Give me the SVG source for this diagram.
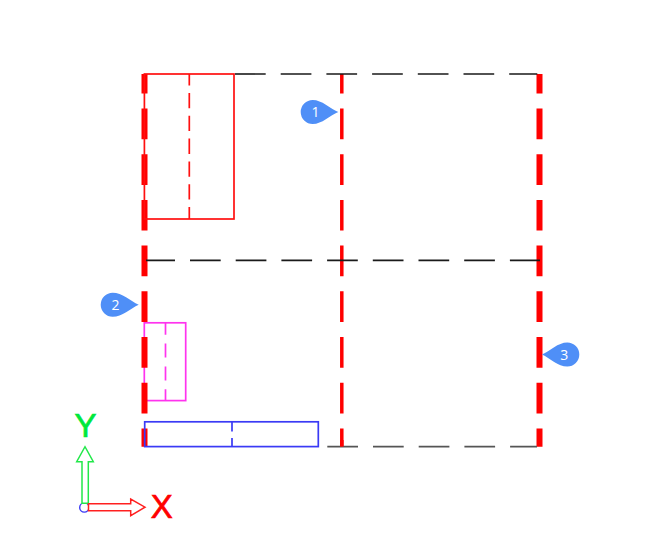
<svg xmlns="http://www.w3.org/2000/svg" width="650" height="550" viewBox="0 0 650 550">
<style>
.blk{stroke:#1a1a1a;stroke-width:1.6;stroke-dasharray:30.7 15;fill:none}
.thick{stroke:#ff0000;stroke-width:6;stroke-dasharray:30.7 15;stroke-dashoffset:11.2;fill:none}
.mid{stroke:#ff0000;stroke-width:3.5;stroke-dasharray:30.7 15;stroke-dashoffset:11.2;fill:none}
.box{fill:none;stroke-width:1.7}
.cen{fill:none;stroke-width:1.7}
.tag{fill:#4f8ff7}
.num{fill:#fff;font-family:"Open Sans","Liberation Sans",sans-serif;font-size:14px;text-anchor:middle}
.ax{font-family:"Liberation Sans",Arial,sans-serif;font-size:33px;text-anchor:middle;stroke-width:.7}
</style>
<rect width="650" height="550" fill="#fff"/>
<g id="magenta-part">
<rect class="box" x="144.3" y="322.8" width="41.4" height="77.8" stroke="#ff33ee"/>
<line class="cen" x1="165.5" y1="322.8" x2="165.5" y2="400.6" stroke="#ff33ee" stroke-dasharray="14 8.8" stroke-dashoffset="2"/>
</g>
<g id="grid-lines">
<line class="thick" x1="144.5" y1="74" x2="144.5" y2="446.7"/>
<line class="mid" x1="341.8" y1="74" x2="341.8" y2="446.7"/>
<line class="thick" x1="539.5" y1="74" x2="539.5" y2="446.7"/>
<line class="blk" x1="235" y1="74" x2="537.3" y2="74"/>
<line class="blk" x1="146" y1="260.4" x2="540" y2="260.4" stroke-dashoffset="1.7"/>
<path class="blk" d="M327.3 446.6H537" style="stroke:#555;stroke-width:1.8"/>
<line x1="341.8" y1="440" x2="341.8" y2="446.7" stroke="#ff0000" stroke-width="3.5"/>
</g>
<g id="red-part">
<rect class="box" x="144.4" y="74" width="89.6" height="145" stroke="#ff1010"/>
<line class="cen" x1="189.3" y1="74" x2="189.3" y2="219" stroke="#ff1010" stroke-dasharray="15.3 7.5" stroke-dashoffset="3.8"/>
</g>
<g id="blue-part">
<rect class="box" x="144.7" y="421.8" width="173.6" height="24.8" stroke="#3a3af5"/>
<path class="cen" d="M232 421.8V431.5M232 438V446.6" stroke="#3a3af5"/>
</g>
<g id="tag-1">
<path class="tag" d="M338.3 112C330 108.500 322 100 312.700 100A12 12 0 0 0 312.700 124C322 124 330 115.500 338.300 112Z"/>
<text class="num" x="315.500" y="117">1</text>
</g>
<g id="tag-2">
<path class="tag" d="M138.700 304.700C130.500 301 122 292.700 112.700 292.700A12 12 0 0 0 112.700 316.700C122 316.700 130.500 308.500 138.700 304.700Z"/>
<text class="num" x="115.500" y="309.700">2</text>
</g>
<g id="tag-3">
<path class="tag" d="M542 354.500C550 351 558 342.500 567.300 342.500A12 12 0 0 1 567.300 366.500C558 366.500 550 358.200 542 354.500Z"/>
<text class="num" x="564.300" y="359.500">3</text>
</g>
<g id="axes">
<circle cx="84.300" cy="507.500" r="4.600" fill="none" stroke="#3a3af5" stroke-width="1.400"/>
<path d="M82 503.300V461.700H76.700L85 446.700L93.300 461.700H88.300V503.300Z" fill="#fff" stroke="#22e84a" stroke-width="1.500"/>
<path d="M88.500 503.800H130.700V499L145 507.200L130.700 515.700V510.700H88.500Z" fill="#fff" stroke="#ff2020" stroke-width="1.500"/>
<text class="ax" x="85.500" y="437.300" fill="#00e83c" stroke="#00e83c">Y</text>
<text class="ax" x="161.700" y="518.300" fill="#ff0000" stroke="#ff0000">X</text>
</g>
</svg>
